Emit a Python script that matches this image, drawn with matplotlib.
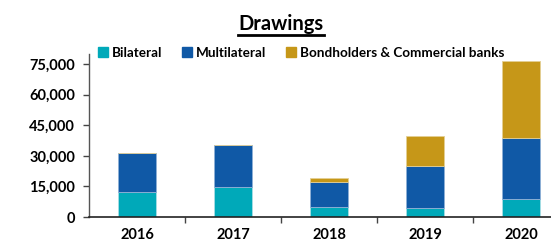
import matplotlib
matplotlib.use("Agg")
import matplotlib.pyplot as plt
from matplotlib.patches import Patch
from matplotlib.lines import Line2D
import numpy as np

plt.rcParams['font.family'] = ['Lato', 'DejaVu Sans']

years = ["2016", "2017", "2018", "2019", "2020"]
bilateral = [12100, 14600, 4800, 4400, 8900]
multilateral = [19400, 20900, 12400, 20800, 29800]
bondholders = [0, 0, 1800, 14700, 37700]

c_bil = "#00A9B9"
c_mul = "#1059A6"
c_bond = "#C69718"

fig = plt.figure(figsize=(5.51, 2.43), dpi=100)
ax = fig.add_axes([89/551, 1-217/243, 480/551, 163/243])

x = np.arange(len(years))
w = 0.4
b1 = np.array(bilateral)
b2 = b1 + np.array(multilateral)
ax.bar(x, bilateral, w, color=c_bil, edgecolor="#a8dde4", linewidth=0.6, zorder=2)
ax.bar(x, multilateral, w, bottom=b1, color=c_mul, edgecolor="#8fb0d6", linewidth=0.6, zorder=2)
ax.bar(x, bondholders, w, bottom=b2, color=c_bond, edgecolor="#e4cf94", linewidth=0.6, zorder=2)

ax.set_xlim(-0.5, 4.5)
ax.set_ylim(0, 80000)
ax.set_yticks(np.arange(0, 75001, 15000))
ax.set_yticklabels([f"{v:,}" for v in range(0, 75001, 15000)], fontsize=10.5, fontweight="bold")
ax.set_xticks(x)
ax.set_xticklabels(years, fontsize=10.5, fontweight="bold")
ax.tick_params(axis="x", which="major", length=0, pad=8)
ax.set_xticks(np.arange(0.5, 4.5, 1), minor=True)
ax.tick_params(axis="x", which="minor", length=4, width=1, color="#444444", direction="out")
ax.tick_params(axis="y", length=4, width=1, color="#444444", pad=6)
for s in ["top", "right"]:
    ax.spines[s].set_visible(False)
ax.spines["left"].set_color("#555555")
ax.spines["bottom"].set_color("#222222")
ax.spines["left"].set_linewidth(1)
ax.spines["bottom"].set_linewidth(1.2)

handles = [Patch(color=c_bil, label="Bilateral"),
           Patch(color=c_mul, label="Multilateral"),
           Patch(color=c_bond, label="Bondholders & Commercial banks")]
leg = fig.legend(handles=handles, loc="center", bbox_to_anchor=(301/551, 1-53/243), ncol=3,
                 frameon=False, handlelength=0.75, handleheight=0.75, handletextpad=0.25,
                 columnspacing=1.5, prop={"weight": "bold", "size": 9.7})

t = fig.text(281/551, 1-24/243, "Drawings", ha="center", va="center", fontsize=14.5, fontweight="bold")
fig.canvas.draw()
bb = t.get_window_extent().transformed(fig.transFigure.inverted())
fig.add_artist(Line2D([bb.x0, bb.x1], [bb.y0 - 0.005, bb.y0 - 0.005], transform=fig.transFigure,
                      color="black", linewidth=2))

fig.savefig("out.png", dpi=100)
